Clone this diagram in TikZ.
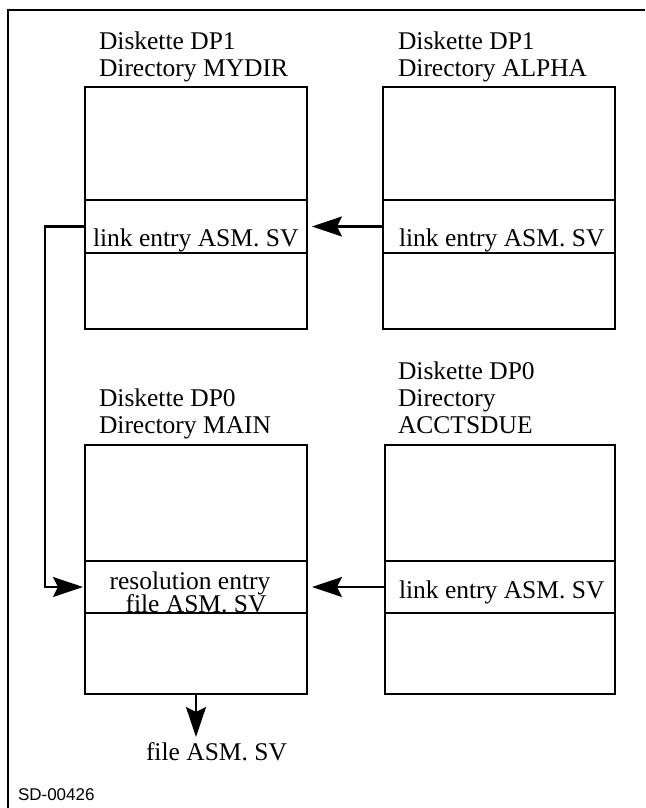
\documentclass[tikz,border=0pt]{standalone}
\usepackage{fontspec}
\setmainfont{Liberation Serif}
\newfontfamily\figsans{Liberation Sans}
\usetikzlibrary{arrows.meta}
\begin{document}
\begin{tikzpicture}[x=1pt,y=-1pt,
  every node/.style={inner sep=0pt,outer sep=0pt},
  dirbox/.style={draw,line width=2.3pt,anchor=north west,minimum height=242pt},
  lowbox/.style={draw,line width=2.3pt,anchor=north west,minimum height=249pt},
  entryrow/.style={draw,line width=2.3pt,anchor=north west},
  lbl/.style={anchor=base west,font=\fontsize{25.5}{27}\selectfont},
  clbl/.style={anchor=base,font=\fontsize{25.5}{27}\selectfont},
  conn/.style={line width=2.3pt,-{Stealth[length=30pt,width=20pt,inset=5pt]}},
  frameline/.style={line width=2.5pt}]
\useasboundingbox (0,0) rectangle (645,808);
\fill[white] (0,0) rectangle (645,808);

% outer frame (top and left edges only)
\draw[frameline] (645,10) -- (8,10) -- (8,808);

% directory MYDIR on DP1
\node[lbl] (t1a) at (99,50) {Diskette DP1};
\node[lbl] (t1b) at (99,77) {Directory MYDIR};
\node[dirbox,minimum width=222pt] (mydir) at (85,87) {};
\node[entryrow,minimum width=222pt,minimum height=53pt] (mydirRow) at (85,200) {};
\node[lbl] (mydirTxt) at (93,246) {link entry ASM. SV};

% directory ALPHA on DP1
\node[lbl] (t2a) at (398,50) {Diskette DP1};
\node[lbl] (t2b) at (398,77) {Directory ALPHA};
\node[dirbox,minimum width=232pt] (alpha) at (383,87) {};
\node[entryrow,minimum width=232pt,minimum height=53pt] (alphaRow) at (383,200) {};
\node[lbl] (alphaTxt) at (399,246) {link entry ASM. SV};

% directory MAIN on DP0
\node[lbl] (t3a) at (99,406) {Diskette DP0};
\node[lbl] (t3b) at (99,433) {Directory MAIN};
\node[lowbox,minimum width=222pt] (main) at (85,445) {};
\node[entryrow,minimum width=222pt,minimum height=52pt] (mainRow) at (85,561) {};
\node[clbl] (mainTxtA) at (190,589) {resolution entry};
\node[clbl] (mainTxtB) at (196,612) {file ASM. SV};

% directory ACCTSDUE on DP0
\node[lbl] (t4a) at (398,379) {Diskette DP0};
\node[lbl] (t4b) at (398,406) {Directory};
\node[lbl] (t4c) at (398,433) {ACCTSDUE};
\node[lowbox,minimum width=230pt] (accts) at (385,445) {};
\node[entryrow,minimum width=230pt,minimum height=52pt] (acctsRow) at (385,561) {};
\node[lbl] (acctsTxt) at (399,598) {link entry ASM. SV};

% resolved file
\node[lbl] (fileTxt) at (146,760) {file ASM. SV};
\coordinate (fileTop) at (196,737);

% figure number
\node[anchor=base west,font=\figsans\fontsize{17}{18}\selectfont] (figno) at (18,800) {SD-00426};

% link chain
\draw[conn,shorten >=5pt] (alphaRow.west) -- (mydirRow.east);
\draw[conn,shorten >=5pt] (acctsRow.west) -- (mainRow.east);
\draw[conn,shorten >=2pt] (mydirRow.west) -- ++(-40,0) |- (mainRow.west);
\draw[conn] (main.south) -- (fileTop);
\end{tikzpicture}
\end{document}
